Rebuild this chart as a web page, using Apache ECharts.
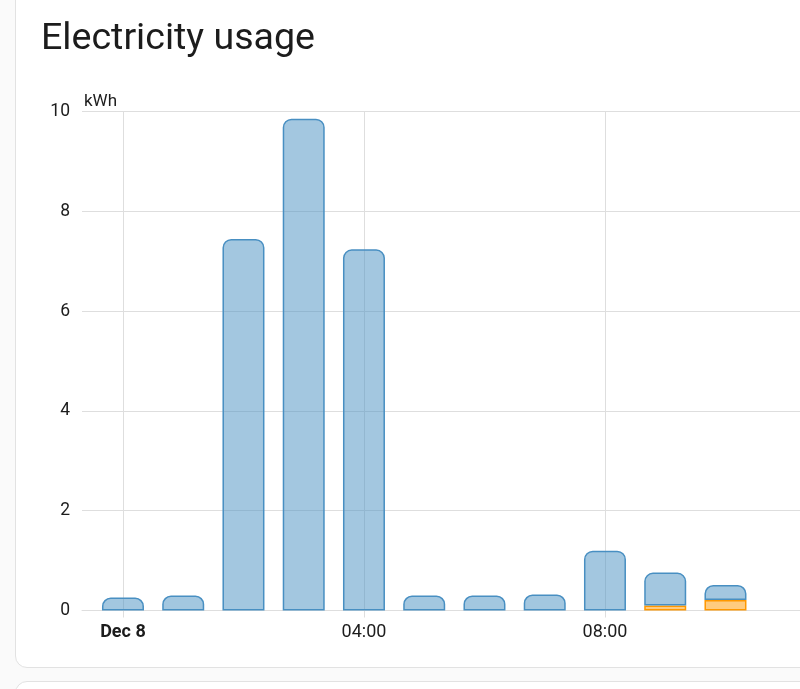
<!DOCTYPE html>
<html>
<head>
<meta charset="utf-8">
<script src="https://cdn.jsdelivr.net/npm/echarts@6/dist/echarts.min.js"></script>
<style>
  html, body { margin: 0; padding: 0; width: 800px; height: 689px; overflow: hidden; background: #fafafa; font-family: Roboto, sans-serif; }
  .card { position: absolute; background: #fff; border: 1px solid #e2e2e2; border-radius: 12px; box-sizing: border-box; }
  #card1 { left: 15px; top: -30px; width: 900px; height: 698px; }
  #card2 { left: 15px; top: 681px; width: 900px; height: 200px; }
  #chart { position: absolute; left: 0; top: 0; width: 1100px; height: 689px; }
</style>
</head>
<body>
<div class="card" id="card1"></div>
<div class="card" id="card2"></div>
<div id="chart"></div>
<script>
// Hours after midnight, Dec 8
const hours = [0, 1, 2, 3, 4, 5, 6, 7, 8, 9, 10];
// Grid electricity (blue) kWh, stacked on top of the orange series
const gridUsage = [0.26, 0.30, 7.45, 9.86, 7.24, 0.30, 0.30, 0.32, 1.20, 0.66, 0.30];
// Second source (orange) kWh
const otherUsage = [0, 0, 0, 0, 0, 0, 0, 0, 0, 0.10, 0.21];
const xTickHours = [0, 4, 8, 12];
const yTicks = [0, 2, 4, 6, 8, 10];
const titleText = 'Electricity usage';
const unitText = 'kWh';
const dayLabel = 'Dec 8';

const chart = echarts.init(document.getElementById('chart'), null, { renderer: 'canvas' });
const gridColor = '#dedede';

// time scale (hours) of the visible axis
const xMin = -0.68, xMax = 15.32;
const plotLeft = 82, plotWidth = 964, plotTop = 111.7, plotHeight = 498.8;
const hourPx = plotWidth / (xMax - xMin);
// the bar grid uses hourly bands centred on each hour, aligned to the time scale
const barGridLeft = plotLeft + (hours[0] - xMin) * hourPx - hourPx / 2;
const barGridWidth = hours.length * hourPx;

const option = {
  animation: false,
  title: [{
    text: titleText,
    left: 36, top: 16,
    textStyle: { fontFamily: 'Roboto', fontSize: 37.6, fontWeight: 'normal', color: '#1c1c1c' }
  }, {
    text: unitText,
    left: 79, top: 88,
    textStyle: { fontFamily: 'Roboto', fontSize: 17, fontWeight: 'normal', color: '#1c1c1c' }
  }],
  grid: [
    { left: plotLeft, top: plotTop, height: plotHeight, width: plotWidth },
    { left: barGridLeft, top: plotTop, height: plotHeight, width: barGridWidth }
  ],
  xAxis: [{
    type: 'value', gridIndex: 0,
    min: xMin, max: xMax,
    axisLine: { show: true, lineStyle: { color: gridColor } },
    axisTick: { show: true, length: 7, lineStyle: { color: gridColor }, customValues: xTickHours },
    splitLine: { show: true, lineStyle: { color: gridColor } },
    axisLabel: {
      customValues: xTickHours,
      margin: 13,
      fontFamily: 'Roboto', fontSize: 18, color: '#1c1c1c',
      formatter: function (v) {
        if (v === 0) return '{b|' + dayLabel + '}';
        return String(v).padStart(2, '0') + ':00';
      },
      rich: { b: { fontFamily: 'Roboto', fontSize: 18, fontWeight: 'bold', color: '#1c1c1c' } }
    }
  }, {
    type: 'category', gridIndex: 1,
    data: hours.map(String),
    show: false
  }],
  yAxis: [{
    type: 'value', gridIndex: 0,
    min: yTicks[0], max: yTicks[yTicks.length - 1], interval: 2,
    axisLine: { show: true, lineStyle: { color: gridColor } },
    axisTick: { show: true, length: 7, lineStyle: { color: gridColor } },
    splitLine: { show: true, lineStyle: { color: gridColor } },
    axisLabel: { margin: 12, fontFamily: 'Roboto', fontSize: 17.5, color: '#1c1c1c' }
  }, {
    type: 'value', gridIndex: 1,
    min: yTicks[0], max: yTicks[yTicks.length - 1],
    show: false, splitLine: { show: false }
  }],
  series: [
    {
      name: 'other', type: 'bar', stack: 'usage', barWidth: 42,
      xAxisIndex: 1, yAxisIndex: 1,
      data: otherUsage.map(v => v > 0 ? v : { value: v, itemStyle: { borderWidth: 0 } }),
      itemStyle: { color: 'rgba(255,152,0,0.5)', borderColor: '#ff9800', borderWidth: 1.5 }
    },
    {
      name: 'grid', type: 'bar', stack: 'usage', barWidth: 42,
      xAxisIndex: 1, yAxisIndex: 1,
      data: gridUsage,
      itemStyle: { color: 'rgba(72,143,194,0.5)', borderColor: '#488fc2', borderWidth: 1.5, borderRadius: [8, 8, 0, 0] }
    }
  ]
};
chart.setOption(option);
</script>
</body>
</html>
